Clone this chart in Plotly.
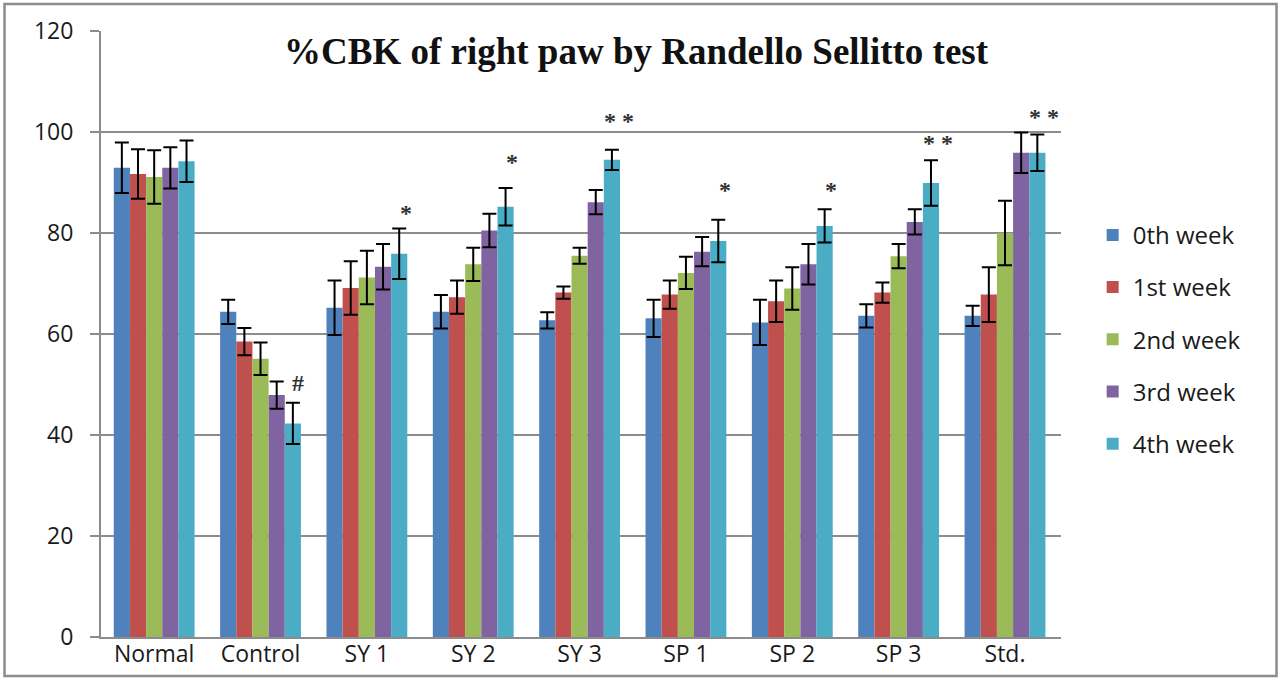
import plotly.graph_objects as go

categories = ["Normal", "Control", "SY 1", "SY 2", "SY 3", "SP 1", "SP 2", "SP 3", "Std."]
series_names = ["0th week", "1st week", "2nd week", "3rd week", "4th week"]

week0 = [92.9, 64.4, 65.2, 64.4, 62.7, 63.1, 62.3, 63.6, 63.6]
week1 = [91.7, 58.5, 69.1, 67.3, 68.2, 67.8, 66.5, 68.2, 67.8]
week2 = [91.1, 55.1, 71.2, 73.8, 75.5, 72.1, 69.0, 75.4, 80.0]
week3 = [92.9, 47.9, 73.3, 80.5, 86.1, 76.3, 73.8, 82.2, 95.9]
week4 = [94.2, 42.3, 75.9, 85.2, 94.5, 78.4, 81.4, 89.9, 95.9]

err0 = [5.0, 2.4, 5.4, 3.3, 1.6, 3.7, 4.5, 2.3, 2.0]
err1 = [4.9, 2.7, 5.3, 3.3, 1.2, 2.8, 4.1, 2.0, 5.4]
err2 = [5.3, 3.2, 5.3, 3.3, 1.6, 3.2, 4.2, 2.4, 6.4]
err3 = [4.1, 2.7, 4.5, 3.3, 2.4, 2.9, 4.0, 2.5, 4.0]
err4 = [4.1, 4.1, 5.0, 3.7, 2.0, 4.2, 3.3, 4.5, 3.6]

# significance marks (category, text, label y-value)
sig_cats = ["Control", "SY 1", "SY 2", "SY 3", "SP 1", "SP 2", "SP 3", "Std."]
sig_text = ["#", "*", "*", "* *", "*", "*", "* *", "* *"]
sig_y = [50.3, 83.9, 94.0, 102.1, 88.5, 88.5, 97.8, 102.9]

y_ticks = [0, 20, 40, 60, 80, 100, 120]

colors = ["#4F81BD", "#C0504D", "#9BBB59", "#8064A2", "#4BACC6"]
values = [week0, week1, week2, week3, week4]
errors = [err0, err1, err2, err3, err4]

fig = go.Figure()
for name, vals, errs, col in zip(series_names, values, errors, colors):
    fig.add_trace(go.Bar(
        x=categories, y=vals, name=name, legendgroup=name,
        marker=dict(color=col, line=dict(width=0)),
        error_y=dict(type="data", array=errs, visible=True,
                     color="#000000", thickness=2, width=7),
    ))

for c, t, yv in zip(sig_cats, sig_text, sig_y):
    fig.add_annotation(
        x=c, y=yv, xref="x", yref="y", text="<b>" + t + "</b>", showarrow=False,
        xshift=39 if t != "#" else 37,
        font=dict(family="Liberation Serif", size=24, color="#333333"),
    )

fig.add_annotation(
    x=0.558, y=1.0, xref="paper", yref="paper", yanchor="top", yshift=2,
    text="<b>%CBK of right paw by Randello Sellitto test</b>", showarrow=False,
    font=dict(family="Liberation Serif", size=37, color="#111111"),
)

# outer chart frame
fig.add_shape(type="rect", xref="paper", yref="paper",
              x0=-0.1005, x1=1.2245, y0=-0.0645, y1=1.0445,
              line=dict(color="#8c8c8c", width=2.5), layer="below")

fig.update_layout(
    width=1280, height=682,
    margin=dict(l=101, r=219, t=31, b=45, autoexpand=False),
    paper_bgcolor="white", plot_bgcolor="white",
    barmode="group", bargap=0.24, bargroupgap=0,
    font=dict(family="Open Sans", size=23, color="#1a1a1a"),
    showlegend=True,
    legend=dict(x=1.033, xanchor="left", y=0.70, yanchor="top",
                tracegroupgap=18, font=dict(family="Open Sans", size=24),
                bgcolor="rgba(0,0,0,0)"),
    xaxis=dict(showline=True, linecolor="#8c8c8c", linewidth=2,
               ticks="", showgrid=False, tickfont=dict(size=23),
               ticklabelstandoff=-5, automargin=False),
    yaxis=dict(range=[0, 120], tickvals=y_ticks, showgrid=True,
               gridcolor="#8c8c8c", gridwidth=2, showline=True,
               linecolor="#8c8c8c", linewidth=2, ticks="outside",
               ticklen=9, tickcolor="#8c8c8c", tickwidth=2,
               zeroline=False, tickfont=dict(size=23),
               ticklabelstandoff=12, automargin=False),
)

fig.write_html("out.html", config={"displayModeBar": False},
               post_script="document.body.style.margin='0';")
